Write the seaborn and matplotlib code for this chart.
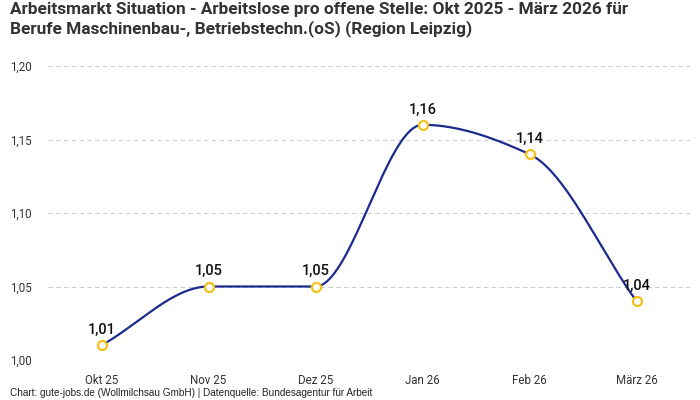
import numpy as np
import pandas as pd
import matplotlib
matplotlib.use("Agg")
import matplotlib.pyplot as plt
import seaborn as sns

months = ["Okt 25", "Nov 25", "Dez 25", "Jan 26", "Feb 26", "März 26"]
ratio = [1.01, 1.05, 1.05, 1.16, 1.14, 1.04]
value_labels = ["1,01", "1,05", "1,05", "1,16", "1,14", "1,04"]
y_ticks = [1.00, 1.05, 1.10, 1.15, 1.20]
y_tick_labels = ["1,00", "1,05", "1,10", "1,15", "1,20"]

title = ("Arbeitsmarkt Situation - Arbeitslose pro offene Stelle: Okt 2025 - März 2026 für\n"
         "Berufe Maschinenbau-, Betriebstechn.(oS) (Region Leipzig)")
source = "Chart: gute-jobs.de (Wollmilchsau GmbH) | Datenquelle: Bundesagentur für Arbeit"

line_color = "#1b2a8c"
marker_edge = "#f5c21b"


def monotone_curve(y, steps=60):
    # monotone cubic (Fritsch-Carlson) for the smoothed line drawing
    y = np.asarray(y, dtype=float)
    n = len(y)
    d = np.diff(y)
    m = np.zeros(n)
    m[0], m[-1] = d[0], d[-1]
    for k in range(1, n - 1):
        if d[k - 1] * d[k] > 0:
            m[k] = 2 / (1 / d[k - 1] + 1 / d[k])
    xs, ys = [], []
    for k in range(n - 1):
        t = np.linspace(0, 1, steps)
        h00 = 2 * t**3 - 3 * t**2 + 1
        h10 = t**3 - 2 * t**2 + t
        h01 = -2 * t**3 + 3 * t**2
        h11 = t**3 - t**2
        xs.append(k + t)
        ys.append(h00 * y[k] + h10 * m[k] + h01 * y[k + 1] + h11 * m[k + 1])
    return np.concatenate(xs), np.concatenate(ys)


df = pd.DataFrame({"pos": range(len(months)), "ratio": ratio})
cx, cy = monotone_curve(ratio)
curve = pd.DataFrame({"x": cx, "y": cy})

sns.set_style("white")
plt.rcParams["font.family"] = ["Roboto", "DejaVu Sans"]

fig = plt.figure(figsize=(7, 4), dpi=100)
ax = fig.add_axes([48 / 700, 40 / 400, 642 / 700, 294 / 400])

sns.lineplot(data=curve, x="x", y="y", ax=ax, color=line_color, linewidth=1.6,
             estimator=None, sort=False)
sns.scatterplot(data=df, x="pos", y="ratio", ax=ax, s=42, color="white",
                edgecolor=marker_edge, linewidth=1.6, zorder=5)

for i, (v, lab) in enumerate(zip(ratio, value_labels)):
    ax.annotate(lab, (i, v), xytext=(0, 6), textcoords="offset points",
                ha="center", va="bottom", fontsize=10.5, fontweight="medium",
                color="#111111")

ax.set_xlim(-0.5, len(months) - 0.5)
ax.set_ylim(1.00, 1.20)
ax.set_xticks(range(len(months)))
ax.set_xticklabels(months)
ax.set_yticks(y_ticks)
ax.set_yticklabels(y_tick_labels)
ax.tick_params(axis="x", length=0, pad=10, labelsize=8.3, colors="#333333")
ax.tick_params(axis="y", length=0, pad=27, labelsize=8.3, colors="#333333")
for lab in ax.get_yticklabels():
    lab.set_horizontalalignment("left")
ax.set_xlabel("")
ax.set_ylabel("")
ax.grid(axis="y", color="#cccccc", linestyle=(0, (4, 3)), linewidth=0.8)
ax.grid(axis="x", visible=False)
for s in ax.spines.values():
    s.set_visible(False)
for c in ax.collections + ax.lines:
    c.set_clip_on(False)

fig.text(10 / 700, 1 - 2 / 400, title, ha="left", va="top", fontsize=12.4,
         fontweight="bold", color="#333333", linespacing=1.2)
fig.text(10 / 700, 1 - 393 / 400, source, ha="left", va="center", fontsize=7.2,
         color="#222222", family=["Liberation Sans", "DejaVu Sans"])

fig.savefig("out.png", dpi=100)
